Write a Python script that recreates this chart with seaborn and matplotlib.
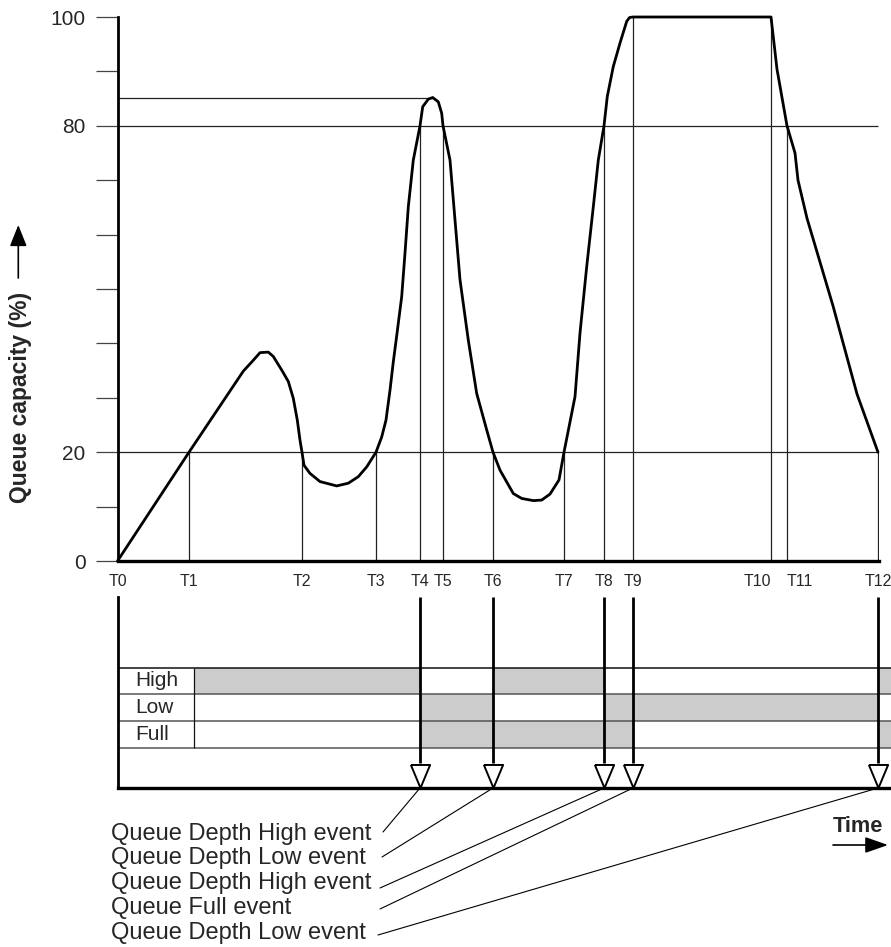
import numpy as np
import pandas as pd
import matplotlib
matplotlib.use("Agg")
import matplotlib.pyplot as plt
import seaborn as sns

# ---------------- data ----------------
t_labels = ["T0", "T1", "T2", "T3", "T4", "T5", "T6", "T7", "T8", "T9", "T10", "T11", "T12"]
t_times = [0, 71.5, 184.5, 258.5, 302.5, 325.5, 375.5, 446.5, 486.5, 515.5, 653.5, 669.5, 760.5]
t_levels = [0, 20, 20, 20, 80, 80, 20, 20, 80, 100, 100, 80, 20]

curve_time = [0, 71.5, 125.8, 135.8, 142.5, 150.8, 155.8, 164.2, 170.8, 175.8, 179.8, 182.5,
              184.5, 186.5, 192.5, 202.5, 219.2, 230.8, 240.8, 249.2, 258.5, 264.2, 268.5,
              272.5, 275.8, 279.2, 284.2, 287.5, 290.8, 295.8, 302.5, 305.2, 310.8, 315.2,
              320.8, 324.2, 325.5, 332.5, 337.5, 342.5, 350.8, 359.2, 369.2, 375.5, 382.5,
              395.8, 404.2, 415.8, 424.2, 432.5, 441.5, 446.5, 457.5, 462.5, 469.2, 475.8,
              480.8, 486.5, 489.8, 495.8, 502.5, 509.2, 512.0, 515.5, 653.5, 659.5, 669.5,
              677.5, 680.5, 689.5, 715.5, 739.5, 760.5]
curve_pct = [0, 20, 34.9, 36.9, 38.3, 38.4, 37.6, 35.1, 33.0, 29.9, 25.9, 22.2,
             20, 17.6, 16.1, 14.6, 13.8, 14.3, 15.5, 17.3, 20, 22.8, 25.9,
             31.4, 36.6, 41.4, 48.6, 56.6, 65.1, 73.7, 80, 83.5, 84.9, 85.2,
             84.4, 82.3, 80, 73.7, 62.7, 51.7, 40.6, 30.8, 24.1, 20, 16.7,
             12.4, 11.5, 11.1, 11.2, 12.3, 14.9, 20, 30.2, 41.9, 54.1, 65.1,
             73.7, 80, 85.4, 90.9, 95.2, 99.2, 99.9, 100, 100, 90.4, 80,
             75.0, 70.0, 63.0, 46.9, 30.7, 20]

peak_time = 315.2
peak_pct = 85.2
threshold_high = 80
threshold_low = 20

y_major = [0, 20, 80, 100]
y_minor = [0, 10, 20, 30, 40, 50, 60, 70, 80, 90, 100]

row_names = ["High", "Low", "Full"]
label_col_end = 76
time_end = 773.5
high_on = [(76, 302.5), (375.5, 486.5), (760.5, 773.5)]
low_on = [(302.5, 375.5), (486.5, 760.5)]
full_on = [(302.5, 515.5), (760.5, 773.5)]

event_idx = [4, 6, 8, 9, 12]
event_texts = ["Queue Depth High event", "Queue Depth Low event", "Queue Depth High event",
               "Queue Full event", "Queue Depth Low event"]

# ---------------- style ----------------
sns.set_style("white")
plt.rcParams["font.family"] = ["Liberation Sans", "DejaVu Sans"]

W, H = 891, 947
fig = plt.figure(figsize=(W / 100, H / 100), dpi=100)
fig.patch.set_facecolor("white")


def rect(l, t, r, b):
    return [l / W, 1 - b / H, (r - l) / W, (b - t) / H]


# ---------------- top chart ----------------
ax = fig.add_axes(rect(117.5, 17, 878.5, 561))
ax.set_xlim(0, 761)
ax.set_ylim(0, 100)
df = pd.DataFrame({"time": curve_time, "pct": curve_pct})
sns.lineplot(data=df, x="time", y="pct", ax=ax, color="black", lw=2.0,
             sort=False, estimator=None, zorder=5)
for ln in ax.lines:
    ln.set_clip_on(False)
    ln.set_solid_joinstyle("round")
    ln.set_solid_capstyle("round")

ax.hlines([threshold_high, threshold_low], 0, t_times[-1], color="#222222", lw=0.9, zorder=2)
ax.hlines(peak_pct, 0, peak_time, color="#222222", lw=0.9, zorder=2)
ax.vlines(t_times[1:], 0, t_levels[1:], color="#222222", lw=0.9, zorder=2)

for s in ["top", "right"]:
    ax.spines[s].set_visible(False)
ax.spines["left"].set_linewidth(2.0)
ax.spines["bottom"].set_linewidth(2.4)
ax.spines["left"].set_color("black")
ax.spines["bottom"].set_color("black")
ax.spines["left"].set_zorder(6)
ax.spines["bottom"].set_zorder(6)

ax.set_yticks(y_minor)
ax.set_yticklabels([str(v) if v in y_major else "" for v in y_minor])
ax.tick_params(axis="y", length=16, width=0.9, color="#444444", pad=7,
               labelsize=15, direction="out", left=True)
ax.set_xticks(t_times)
ax.set_xticklabels(t_labels)
ax.tick_params(axis="x", length=0, pad=9, labelsize=11.5, bottom=True)
for lab in ax.get_xticklabels():
    if lab.get_text() == "T10":
        lab.set_horizontalalignment("right")
    elif lab.get_text() == "T11":
        lab.set_horizontalalignment("left")
ax.set_xlabel("")
ax.set_ylabel("")
ax.grid(False)

# ---------------- lower event panel ----------------
axl = fig.add_axes(rect(117.5, 597, 891, 788))
axl.set_xlim(0, time_end)
axl.set_ylim(0, 191)
row_edges = {"Full": (40, 66.8), "Low": (66.8, 93.7), "High": (93.7, 120.5)}
row_spans = {"High": high_on, "Low": low_on, "Full": full_on}
for name in row_names:
    lo, hi = row_edges[name]
    spans = row_spans[name]
    axl.barh([(lo + hi) / 2] * len(spans), [e - s for s, e in spans],
             left=[s for s, e in spans], height=hi - lo, color="#cccccc", lw=0, zorder=1)
    axl.text(17.5, (lo + hi) / 2, name, ha="left", va="center", fontsize=15, zorder=3)

axl.hlines([40, 66.8, 93.7], 0, time_end, color="#555555", lw=1.1, zorder=2)
axl.hlines(120.5, 0, time_end, color="#111111", lw=1.1, zorder=2)
axl.vlines(label_col_end, 40, 120.5, color="#111111", lw=0.9, zorder=2)

ev_t = [t_times[i] for i in event_idx]
axl.vlines(ev_t, 25, 191, color="black", lw=2.0, zorder=4)
tri = [(-10, 12), (10, 12), (0, -12), (-10, 12)]
axl.scatter(ev_t, [12.5] * len(ev_t), marker=tri, s=16.6 ** 2, facecolor="white",
            edgecolor="black", linewidths=1.4, zorder=6, clip_on=False)

for s in ["top", "right"]:
    axl.spines[s].set_visible(False)
axl.spines["left"].set_linewidth(2.0)
axl.spines["bottom"].set_linewidth(2.4)
axl.spines["left"].set_color("black")
axl.spines["bottom"].set_color("black")
axl.set_xticks([])
axl.set_yticks([])

# event labels and leaders
baselines = [839.5, 864, 889, 914, 939]
leader_starts = [(383, 832), (382, 857), (380, 888), (380, 909), (378, 935)]
for i, idx in enumerate(event_idx):
    fig.text(111 / W, 1 - baselines[i] / H, event_texts[i], fontsize=17,
             ha="left", va="baseline")
    lx, ly = leader_starts[i]
    axl.annotate("", xy=(t_times[idx], 0), xycoords="data",
                 xytext=(lx, H - ly), textcoords="figure pixels",
                 arrowprops=dict(arrowstyle="-", lw=0.8, color="black",
                                 shrinkA=0, shrinkB=0),
                 annotation_clip=False)

# Time label + arrow
fig.text(833 / W, 1 - 831.7 / H, "Time", fontsize=15.7, fontweight="bold",
         ha="left", va="baseline")
axl.annotate("", xy=(888, H - 845), xycoords="figure pixels",
             xytext=(833, H - 845), textcoords="figure pixels",
             arrowprops=dict(arrowstyle="-|>,head_length=1.0,head_width=0.35",
                             mutation_scale=14, lw=1.2, color="black",
                             shrinkA=0, shrinkB=0),
             annotation_clip=False)

# Y label + arrow
fig.text(21 / W, 1 - 397 / H, "Queue capacity (%)", rotation=90, fontsize=16.5,
         fontweight="bold", ha="center", va="center")
ax.annotate("", xy=(18.3, H - 225), xycoords="figure pixels",
            xytext=(18.3, H - 278), textcoords="figure pixels",
            arrowprops=dict(arrowstyle="-|>,head_length=1.0,head_width=0.4",
                            mutation_scale=13, lw=1.2, color="black",
                            shrinkA=0, shrinkB=0),
            annotation_clip=False)

fig.savefig("out.png", dpi=100, facecolor="white")
